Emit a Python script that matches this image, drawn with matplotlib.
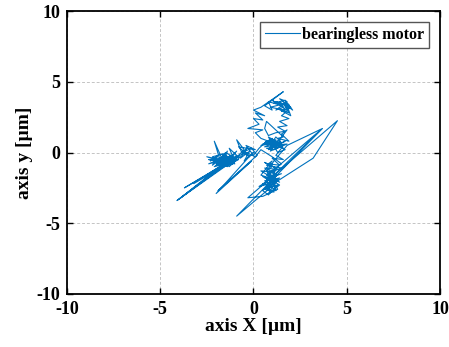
import matplotlib
matplotlib.use("Agg")
import matplotlib.pyplot as plt

plt.rcParams['font.family'] = ['Liberation Serif', 'DejaVu Serif']
plt.rcParams['font.weight'] = 'bold'
plt.rcParams['axes.unicode_minus'] = False

# orbit of the rotor centre (µm)
x_um = [
    # left cluster
    -2.3, -1.9, -2.2, -1.7, -2.1, -1.8, -2.5, -1.6, -1.4, -1.9, -1.2, -2.4,
    -1.5, -1.0, -1.3, -0.9, -1.8, -1.1, -1.6, -2.0, -1.4, -2.2, -1.7, -1.3,
    -2.0, -1.5, -1.1, -1.8, -2.3, -1.4, -0.9, -1.6, -2.1, -1.2, -1.7, -1.0,
    -1.5, -2.0, -1.2, -1.8, -0.8, -1.4, -2.2, -1.6, -1.1, -1.9, -1.3, -0.7,
    -1.7, -2.4, -1.0, -1.5, -1.9, -1.2, -0.9, -1.6, -2.1, -1.3, -1.8, -1.1,
    # fan to lower-left tips
    -4.1, -1.3, -3.7, -1.5, -4.0, -1.0, -3.2, -1.7, -3.9, -1.4,
    # towards centre
    -0.8, -0.5, -0.9, -0.6, -0.3, -0.7, -0.2, -0.5, 0.0, -0.3, -2.0, -0.1,
    -1.9, -0.4, 0.2, -0.1, -0.6, -0.2, -0.8, 0.1, -0.4, 0.0,
    # centre cluster
    0.3, 0.7, 1.1, 0.6, 1.4, 0.9, 1.6, 0.8, 1.3, 1.7, 1.0, 0.5,
    1.5, 1.2, 0.9, 1.8, 1.1, 0.7, 1.4, 1.0, 0.6, 1.2, 0.8, 1.5,
    1.1, 1.7, 0.9, 1.3, 0.4, 1.0, 1.6, 1.2,
    # upper loop, left side
    0.4, 0.1, 0.5, -0.3, 0.3, 0.0, 0.5, 0.1, 0.6, 0.0, 0.4, 1.6,
    0.6, 1.0, 0.8,
    # top cluster
    1.3, 1.0, 1.6, 1.2, 1.8, 1.4, 2.0, 1.5, 1.9, 1.1, 1.7, 2.1,
    1.6, 1.9, 1.3, 2.0, 1.8, 1.2, 1.5, 0.9, 1.7, 1.4, 1.9, 1.6,
    # upper loop, right side
    1.5, 1.9, 1.4, 1.8, 1.3, 1.7, 1.2, 0.8, 0.6, 0.7, 1.6, 1.3, 1.9,
    1.5, 1.8, 1.4,
    # down into lower cluster
    1.5, 1.2, 1.6, 1.0, 1.4, 0.8, 1.3, 0.6, 1.1, 0.4, 0.9, 1.5,
    0.7, 1.2, 0.5, 1.0, 0.6, 1.1, 0.7, 1.3, 0.8, 0.5, 0.9, 0.3,
    1.0, 1.4, 0.8, 1.2, 0.6, 1.0, 0.7, 1.3, 0.9, 0.5, 1.1, 0.8,
    1.4, 0.6, 1.2, 0.9, 1.5, 0.7, 1.0, 0.4, 1.3, 0.8,
    # long strokes to the lower tip and the right-hand wedge
    0.9, -0.9, 3.7, 1.8, 1.1, 0.7, 1.3, 0.5, -0.3, 4.5, 3.2, 0.6,
    1.0, 1.2, 1.1, 3.6, 1.3, 0.9, 1.4, 0.8, 1.2, 0.7, 1.5, 1.0,
    0.4, 0.1, -0.4, -1.2, -1.6,
]
y_um = [
    # left cluster
    -0.6, -0.2, -0.9, -0.4, 0.8, -0.5, -0.3, -0.7, 0.1, -0.9, -0.4, -0.8,
    -0.3, -0.6, 0.3, -0.2, -1.1, -0.8, -0.2, -0.6, -1.0, -0.4, -0.8, -0.5,
    -0.9, 0.0, -0.3, -0.7, -0.5, -0.9, -0.4, -0.6, -1.0, -0.7, -0.1, -0.5,
    -0.4, -0.8, -0.2, -0.6, -0.5, -0.9, -0.3, -0.1, -0.7, -0.4, -1.0, -0.3,
    -0.6, -0.5, -0.8, -0.2, -0.7, -0.4, 0.1, -0.8, -0.6, -0.3, -0.9, -0.5,
    # fan to lower-left tips
    -3.4, -0.6, -2.5, -0.8, -3.3, -0.5, -2.2, -0.9, -3.2, -0.7,
    # towards centre
    -0.2, 0.2, 0.9, -0.1, 0.4, -0.4, 0.1, -0.6, 0.0, -0.4, -2.9, -0.6,
    -2.7, -0.9, -0.2, 0.3, 0.0, -0.3, 0.4, 0.2, 0.5, -0.2,
    # centre cluster
    0.3, 0.8, 0.5, 0.4, 0.9, 0.1, 0.5, 1.1, 0.0, 0.2, 0.8, 0.6,
    0.7, 1.1, 0.5, 0.6, 0.2, 0.3, 0.4, 1.0, 0.7, 0.9, 0.2, 0.6,
    0.4, 0.8, 0.3, 0.7, 0.5, 0.9, 0.3, 0.6,
    # upper loop, left side
    1.0, 1.4, 1.6, 1.7, 2.0, 2.4, 2.3, 2.8, 2.6, 3.0, 3.2, 4.3,
    3.3, 3.0, 3.6,
    # top cluster
    3.4, 3.7, 3.2, 3.0, 3.6, 3.8, 3.2, 2.9, 3.4, 3.5, 3.7, 3.0,
    3.5, 2.8, 3.1, 2.6, 3.3, 3.6, 3.4, 3.2, 3.0, 3.6, 3.1, 2.7,
    # upper loop, right side
    2.6, 2.4, 2.2, 1.9, 1.8, 1.5, 1.4, 1.2, 1.7, 2.2, 1.1, 1.0, 0.8,
    1.3, 1.6, 0.9,
    # down into lower cluster
    0.3, -0.2, -0.5, -0.4, -0.9, -0.8, -1.2, -1.1, -1.4, -1.3, -1.7, -1.5,
    -1.9, -2.0, -2.2, -2.4, -2.6, -2.8, -2.5, -2.3, -3.0, -2.7, -2.2, -2.4,
    -1.8, -2.1, -1.5, -1.1, -0.7, -1.0, -1.3, -1.6, -1.9, -1.7, -2.2, -2.5,
    -1.8, -2.0, -2.7, -1.4, -1.1, -0.9, -0.6, -1.6, -2.0, -2.3,
    # long strokes to the lower tip and the right-hand wedge
    -2.5, -4.5, 1.7, 0.5, -0.6, -1.3, -2.6, -3.1, -3.2, 2.25, -0.4, -2.6,
    -2.0, -1.7, -1.6, 1.6, -1.0, -1.9, -2.3, -2.9, -2.1, -1.6, -0.8, -0.3,
    0.2, -0.3, 0.0, -0.5, -0.4,
]

series_name = 'bearingless motor'
tick_vals = [-10, -5, 0, 5, 10]

fig = plt.figure(figsize=(4.49, 3.47), dpi=100)
ax = fig.add_axes([0.149, 0.153, 0.831, 0.815])

ax.plot(x_um, y_um, color='#0072BD', lw=0.8, label=series_name)

ax.set_xlim(-10, 10)
ax.set_ylim(-10, 10)
ax.set_xticks(tick_vals)
ax.set_yticks(tick_vals)
ax.tick_params(direction='in', top=True, right=True, length=4, width=1.0,
               labelsize=13, pad=5)
for lab in ax.get_xticklabels() + ax.get_yticklabels():
    lab.set_fontweight('bold')
ax.grid(True, linestyle=(0, (3, 2)), color='#c4c4c4', lw=0.7)
for s in ax.spines.values():
    s.set_linewidth(1.3)

ax.set_xlabel('axis X [µm]', fontsize=14, fontweight='bold', labelpad=0)
ax.set_ylabel('axis y [µm]', fontsize=14, fontweight='bold', labelpad=2)

leg = ax.legend(loc='upper right', fontsize=11.5, frameon=True, fancybox=False,
                handlelength=2.2, borderpad=0.3, handletextpad=0.1,
                borderaxespad=0.7)
leg.get_frame().set_edgecolor('#555555')
leg.get_frame().set_linewidth(1.0)
leg.get_frame().set_alpha(1.0)
for t in leg.get_texts():
    t.set_fontweight('bold')

fig.savefig('out.png', dpi=100)
